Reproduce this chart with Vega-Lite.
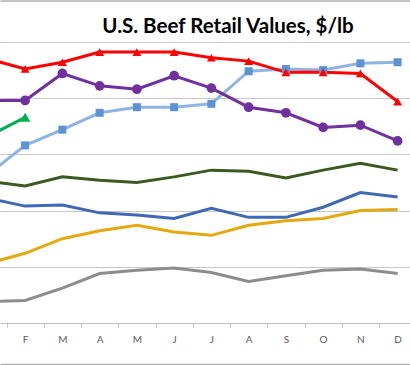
{
  "$schema": "https://vega.github.io/schema/vega-lite/v6.json",
  "width": 410,
  "height": 281,
  "autosize": {"type": "none"},
  "padding": {"left": 0, "top": 42, "right": 0, "bottom": 42},
  "background": "white",
  "title": {
    "text": "U.S. Beef Retail Values, $/lb",
    "font": "Lato",
    "fontSize": 20.5,
    "fontWeight": "bold",
    "color": "#000000",
    "anchor": "middle",
    "frame": "group",
    "dx": 23,
    "dy": 60,
    "baseline": "alphabetic",
    "offset": 7
  },
  "config": {"view": {"stroke": null}},
  "data": {
    "values": [
      {"year": "2010", "month": 1, "value": 4.19},
      {"year": "2010", "month": 2, "value": 4.20},
      {"year": "2010", "month": 3, "value": 4.31},
      {"year": "2010", "month": 4, "value": 4.44},
      {"year": "2010", "month": 5, "value": 4.47},
      {"year": "2010", "month": 6, "value": 4.49},
      {"year": "2010", "month": 7, "value": 4.45},
      {"year": "2010", "month": 8, "value": 4.37},
      {"year": "2010", "month": 9, "value": 4.42},
      {"year": "2010", "month": 10, "value": 4.47},
      {"year": "2010", "month": 11, "value": 4.48},
      {"year": "2010", "month": 12, "value": 4.44},
      {"year": "2011", "month": 1, "value": 4.53},
      {"year": "2011", "month": 2, "value": 4.62},
      {"year": "2011", "month": 3, "value": 4.75},
      {"year": "2011", "month": 4, "value": 4.82},
      {"year": "2011", "month": 5, "value": 4.87},
      {"year": "2011", "month": 6, "value": 4.81},
      {"year": "2011", "month": 7, "value": 4.78},
      {"year": "2011", "month": 8, "value": 4.87},
      {"year": "2011", "month": 9, "value": 4.91},
      {"year": "2011", "month": 10, "value": 4.93},
      {"year": "2011", "month": 11, "value": 5.00},
      {"year": "2011", "month": 12, "value": 5.01},
      {"year": "2012", "month": 1, "value": 5.11},
      {"year": "2012", "month": 2, "value": 5.04},
      {"year": "2012", "month": 3, "value": 5.05},
      {"year": "2012", "month": 4, "value": 4.98},
      {"year": "2012", "month": 5, "value": 4.96},
      {"year": "2012", "month": 6, "value": 4.93},
      {"year": "2012", "month": 7, "value": 5.02},
      {"year": "2012", "month": 8, "value": 4.94},
      {"year": "2012", "month": 9, "value": 4.94},
      {"year": "2012", "month": 10, "value": 5.03},
      {"year": "2012", "month": 11, "value": 5.16},
      {"year": "2012", "month": 12, "value": 5.12},
      {"year": "2013", "month": 1, "value": 5.26},
      {"year": "2013", "month": 2, "value": 5.22},
      {"year": "2013", "month": 3, "value": 5.30},
      {"year": "2013", "month": 4, "value": 5.27},
      {"year": "2013", "month": 5, "value": 5.25},
      {"year": "2013", "month": 6, "value": 5.30},
      {"year": "2013", "month": 7, "value": 5.36},
      {"year": "2013", "month": 8, "value": 5.35},
      {"year": "2013", "month": 9, "value": 5.29},
      {"year": "2013", "month": 10, "value": 5.36},
      {"year": "2013", "month": 11, "value": 5.42},
      {"year": "2013", "month": 12, "value": 5.36},
      {"year": "2014", "month": 1, "value": 5.32},
      {"year": "2014", "month": 2, "value": 5.58},
      {"year": "2014", "month": 3, "value": 5.72},
      {"year": "2014", "month": 4, "value": 5.87},
      {"year": "2014", "month": 5, "value": 5.92},
      {"year": "2014", "month": 6, "value": 5.92},
      {"year": "2014", "month": 7, "value": 5.95},
      {"year": "2014", "month": 8, "value": 6.24},
      {"year": "2014", "month": 9, "value": 6.26},
      {"year": "2014", "month": 10, "value": 6.25},
      {"year": "2014", "month": 11, "value": 6.31},
      {"year": "2014", "month": 12, "value": 6.32},
      {"year": "2015", "month": 1, "value": 6.35},
      {"year": "2015", "month": 2, "value": 6.26},
      {"year": "2015", "month": 3, "value": 6.32},
      {"year": "2015", "month": 4, "value": 6.41},
      {"year": "2015", "month": 5, "value": 6.41},
      {"year": "2015", "month": 6, "value": 6.41},
      {"year": "2015", "month": 7, "value": 6.36},
      {"year": "2015", "month": 8, "value": 6.33},
      {"year": "2015", "month": 9, "value": 6.23},
      {"year": "2015", "month": 10, "value": 6.23},
      {"year": "2015", "month": 11, "value": 6.22},
      {"year": "2015", "month": 12, "value": 5.97},
      {"year": "2016", "month": 1, "value": 5.98},
      {"year": "2016", "month": 2, "value": 5.98},
      {"year": "2016", "month": 3, "value": 6.22},
      {"year": "2016", "month": 4, "value": 6.11},
      {"year": "2016", "month": 5, "value": 6.08},
      {"year": "2016", "month": 6, "value": 6.20},
      {"year": "2016", "month": 7, "value": 6.09},
      {"year": "2016", "month": 8, "value": 5.92},
      {"year": "2016", "month": 9, "value": 5.87},
      {"year": "2016", "month": 10, "value": 5.74},
      {"year": "2016", "month": 11, "value": 5.76},
      {"year": "2016", "month": 12, "value": 5.62},
      {"year": "2017", "month": 1, "value": 5.66},
      {"year": "2017", "month": 2, "value": 5.83}
    ]
  },
  "encoding": {
    "y": {
      "field": "value",
      "type": "quantitative",
      "scale": {"domain": [4, 6.5], "nice": false, "zero": false},
      "axis": {
        "title": null,
        "labels": false,
        "ticks": false,
        "domain": false,
        "grid": true,
        "gridColor": "#C6C6C6",
        "gridWidth": 1,
        "values": [4, 4.5, 5, 5.5, 6, 6.5]
      }
    }
  },
  "resolve": {"axis": {"x": "independent"}},
  "layer": [
    {
      "mark": {"type": "point", "opacity": 0},
      "encoding": {
        "x": {
          "field": "month",
          "type": "quantitative",
          "scale": {"domain": [1.3255, 12.332], "nice": false, "zero": false},
          "axis": {
            "orient": "top",
            "offset": 41.5,
            "title": null,
            "labels": false,
            "ticks": false,
            "grid": false,
            "domainColor": "#B0B0B0",
            "domainWidth": 1.5
          }
        }
      }
    },
    {
      "mark": {"type": "point", "opacity": 0},
      "encoding": {
        "x": {
          "field": "month",
          "type": "quantitative",
          "axis": {
            "orient": "bottom",
            "offset": 41,
            "title": null,
            "labels": false,
            "ticks": false,
            "grid": false,
            "domainColor": "#B0B0B0",
            "domainWidth": 1.5
          }
        }
      }
    },
    {
      "mark": {"type": "line", "strokeWidth": 3, "clip": true},
      "encoding": {
        "x": {
          "field": "month",
          "type": "quantitative",
          "axis": {
            "title": null,
            "grid": false,
            "values": [1.5, 2.5, 3.5, 4.5, 5.5, 6.5, 7.5, 8.5, 9.5, 10.5, 11.5],
            "labelExpr": "substring('JFMAMJJASOND', floor(datum.value), floor(datum.value) + 1)",
            "labelOffset": 18.6,
            "labelFlush": false,
            "labelOverlap": false,
            "labelBound": false,
            "labelFont": "Lato",
            "labelFontSize": 10,
            "labelColor": "#595959",
            "labelPadding": 7,
            "tickSize": 4,
            "tickColor": "#BFBFBF",
            "domainColor": "#BFBFBF",
            "domainWidth": 1
          }
        },
        "color": {
          "field": "year",
          "type": "nominal",
          "scale": {
            "domain": ["2010", "2011", "2012", "2013", "2014", "2015", "2016", "2017"],
            "range": ["#8C8C8C", "#E5A90F", "#4069B5", "#3A5A20", "#8EB4E3", "#FF0000", "#7030A0", "#00B050"]
          },
          "legend": null
        }
      }
    },
    {
      "transform": [{"filter": "datum.year >= '2014'"}],
      "mark": {"type": "point", "filled": true, "opacity": 1, "clip": true},
      "encoding": {
        "x": {"field": "month", "type": "quantitative", "axis": null},
        "fill": {
          "field": "year",
          "type": "nominal",
          "scale": {
            "domain": ["2014", "2015", "2016", "2017"],
            "range": ["#5B93D3", "#FF0000", "#7030A0", "#00B050"]
          },
          "legend": null
        },
        "shape": {
          "field": "year",
          "type": "nominal",
          "scale": {
            "domain": ["2014", "2015", "2016", "2017"],
            "range": ["square", "triangle-up", "circle", "triangle-up"]
          },
          "legend": null
        },
        "size": {
          "field": "year",
          "type": "nominal",
          "scale": {
            "domain": ["2014", "2015", "2016", "2017"],
            "range": [64, 110, 70, 110]
          },
          "legend": null
        }
      }
    }
  ]
}
